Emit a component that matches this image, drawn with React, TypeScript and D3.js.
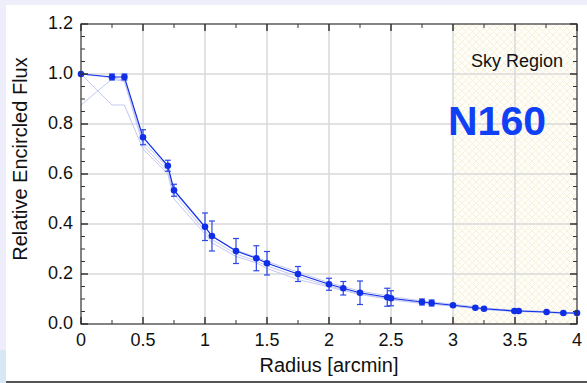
import React from "react";
import * as d3 from "d3";

const W = 587;
const H = 383;

const radius = [0, 0.25, 0.35, 0.5, 0.7, 0.75, 1.0, 1.056, 1.25, 1.414, 1.5, 1.75, 2.0, 2.115, 2.25, 2.47, 2.5, 2.75, 2.828, 3.0, 3.18, 3.25, 3.495, 3.53, 3.755, 3.89, 4.0];
const flux = [1.0, 0.988, 0.988, 0.747, 0.633, 0.535, 0.389, 0.352, 0.292, 0.263, 0.243, 0.2, 0.159, 0.143, 0.125, 0.107, 0.103, 0.088, 0.084, 0.075, 0.065, 0.061, 0.052, 0.052, 0.048, 0.044, 0.044];
const fluxErr = [0, 0.012, 0.012, 0.03, 0.022, 0.024, 0.055, 0.06, 0.05, 0.05, 0.047, 0.03, 0.024, 0.027, 0.047, 0.036, 0.03, 0.012, 0.012, 0, 0, 0, 0, 0, 0, 0, 0];

const faintA = [1.0, 0.876, 0.876, 0.70, 0.60, 0.50, 0.36, 0.325, 0.27, 0.245, 0.222, 0.178, 0.148, 0.134, 0.118, 0.1, 0.097, 0.082, 0.079, 0.071, 0.062, 0.058, 0.05, 0.05, 0.046, 0.042, 0.042];
const faintB = [0.876, 0.98, 0.97, 0.715, 0.61, 0.52, 0.372, 0.338, 0.28, 0.252, 0.232, 0.19, 0.152, 0.138, 0.12, 0.104, 0.1, 0.085, 0.081, 0.073, 0.064, 0.06, 0.051, 0.051, 0.047, 0.043, 0.043];
const faintC = [1.0, 0.985, 0.975, 0.73, 0.625, 0.53, 0.385, 0.35, 0.295, 0.268, 0.25, 0.208, 0.165, 0.15, 0.132, 0.113, 0.109, 0.093, 0.089, 0.079, 0.069, 0.064, 0.055, 0.055, 0.05, 0.046, 0.046];

const xMajor = [0, 0.5, 1, 1.5, 2, 2.5, 3, 3.5, 4];
const xMajorLabels = ["0", "0.5", "1", "1.5", "2", "2.5", "3", "3.5", "4"];
const yMajor = [0, 0.2, 0.4, 0.6, 0.8, 1.0, 1.2];
const yMajorLabels = ["0.0", "0.2", "0.4", "0.6", "0.8", "1.0", "1.2"];

const skyStart = 3;
const skyEnd = 4;

export default function App() {
  const left = 81, right = 577, top = 24, bottom = 324;
  const x = d3.scaleLinear().domain([0, 4]).range([left, right]);
  const y = d3.scaleLinear().domain([0, 1.2]).range([bottom, top]);
  const line = d3.line<number>().x((_, i) => x(radius[i])).y((d) => y(d));

  const xMinor = d3.range(0, 4.001, 0.25);
  const yMinor = d3.range(0, 1.2001, 0.05);
  const font = "Liberation Sans, Arial, sans-serif";
  const blue = "#0f2ee6";

  return (
    <div style={{ position: "absolute", left: 0, top: 0 }}>
      <svg width={W} height={H} style={{ display: "block" }}>
        <defs>
          <pattern id="hatch" width="7" height="7" patternUnits="userSpaceOnUse">
            <rect width="7" height="7" fill="#fefdf8" />
            <path d="M0,0 L7,7 M7,0 L0,7" stroke="#f3edd3" strokeWidth="0.8" />
          </pattern>
        </defs>
        <rect x={0} y={0} width={W} height={H} fill="#eeeefb" />
        <rect x={0} y={350} width={6} height={33} fill="#d6e8f6" />
        <rect x={6} y={5} width={W - 6} height={376} fill="#ffffff" />
        <rect x={6} y={381} width={W - 6} height={2} fill="#555555" />

        {/* sky region */}
        <rect x={x(skyStart)} y={top} width={x(skyEnd) - x(skyStart)} height={bottom - top} fill="url(#hatch)" />

        {/* grid */}
        {xMajor.slice(1, -1).map((v) => (
          <line key={"gx" + v} x1={x(v)} x2={x(v)} y1={top} y2={bottom} stroke="#d8d8d8" strokeWidth={1.5} />
        ))}
        {yMajor.slice(1, -1).map((v) => (
          <line key={"gy" + v} x1={left} x2={right} y1={y(v)} y2={y(v)} stroke="#d8d8d8" strokeWidth={1.5} />
        ))}

        {/* faint lines */}
        {[faintA, faintB, faintC].map((s, k) => (
          <path key={"f" + k} d={line(s) || ""} fill="none" stroke="#c3c8f2" strokeWidth={1} />
        ))}

        {/* main line */}
        <path d={line(flux) || ""} fill="none" stroke={blue} strokeWidth={1.2} />

        {/* error bars */}
        {radius.map((r, i) =>
          fluxErr[i] > 0 ? (
            <g key={"e" + i} stroke="#2a46e8" strokeWidth={1.2}>
              <line x1={x(r)} x2={x(r)} y1={y(flux[i] - fluxErr[i])} y2={y(flux[i] + fluxErr[i])} />
              <line x1={x(r) - 3} x2={x(r) + 3} y1={y(flux[i] - fluxErr[i])} y2={y(flux[i] - fluxErr[i])} />
              <line x1={x(r) - 3} x2={x(r) + 3} y1={y(flux[i] + fluxErr[i])} y2={y(flux[i] + fluxErr[i])} />
            </g>
          ) : null
        )}

        {/* markers */}
        {radius.map((r, i) => (
          <circle key={"m" + i} cx={x(r)} cy={y(flux[i])} r={3.3} fill={blue} />
        ))}

        {/* frame */}
        <rect x={left} y={top} width={right - left} height={bottom - top} fill="none" stroke="#333" strokeWidth={1.2} />

        {/* ticks */}
        {xMinor.map((v, i) => {
          const major = i % 2 === 0;
          const len = major ? 7 : 4;
          return (
            <g key={"tx" + i} stroke="#333" strokeWidth={major ? 1.5 : 1}>
              <line x1={x(v)} x2={x(v)} y1={bottom} y2={bottom - len} />
              <line x1={x(v)} x2={x(v)} y1={top} y2={top + len} />
            </g>
          );
        })}
        {yMinor.map((v, i) => {
          const major = i % 4 === 0;
          const len = major ? 7 : 4;
          return (
            <g key={"ty" + i} stroke="#333" strokeWidth={major ? 1.5 : 1}>
              <line x1={left} x2={left + len} y1={y(v)} y2={y(v)} />
              <line x1={right} x2={right - len} y1={y(v)} y2={y(v)} />
            </g>
          );
        })}

        {/* tick labels */}
        {xMajor.map((v, i) => (
          <text key={"lx" + v} x={x(v)} y={346} textAnchor="middle" fontFamily={font} fontSize={18} fill="#111">
            {xMajorLabels[i]}
          </text>
        ))}
        {yMajor.map((v, i) => (
          <text key={"ly" + v} x={73} y={y(v) + 4.5} textAnchor="end" fontFamily={font} fontSize={18} fill="#111">
            {yMajorLabels[i]}
          </text>
        ))}

        {/* axis titles */}
        <text x={(left + right) / 2} y={372} textAnchor="middle" fontFamily={font} fontSize={20} fill="#111">
          Radius [arcmin]
        </text>
        <text
          transform={`translate(27,${(top + bottom) / 2 - 15}) rotate(-90)`}
          textAnchor="middle"
          fontFamily={font}
          fontSize={20}
          fill="#111"
        >
          Relative Encircled Flux
        </text>

        {/* annotations */}
        <text x={563} y={67} textAnchor="end" fontFamily={font} fontSize={18} fill="#111">
          Sky Region
        </text>
        <text x={497} y={135} textAnchor="middle" fontFamily={font} fontSize={41} fontWeight="bold" fill="#1040f5">
          N160
        </text>
      </svg>
    </div>
  );
}
